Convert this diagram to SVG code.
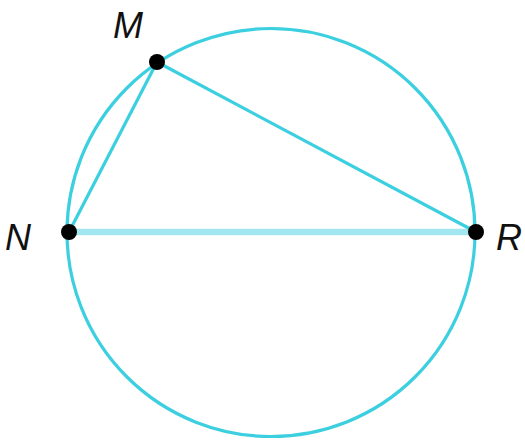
<svg xmlns="http://www.w3.org/2000/svg" width="525" height="440" viewBox="0 0 525 440">
<style>
.c{fill:none;stroke:#3ccfe0;stroke-width:3.2}
.d{fill:#000}
.l{font-family:"Liberation Sans",Arial,sans-serif;font-style:italic;font-size:36px;fill:#111}
</style>
<rect width="525" height="440" fill="#fff"/>
<g id="circle"><circle class="c" cx="271" cy="232.5" r="204"/></g>
<g id="connectors">
<line x1="69" y1="232" x2="476" y2="232" stroke="#a2e6ef" stroke-width="6.5"/>
<line class="c" x1="69" y1="232" x2="157" y2="62"/>
<line class="c" x1="157" y1="62" x2="476" y2="232"/>
</g>
<g id="M"><circle class="d" cx="157" cy="62" r="8"/><text class="l" x="113" y="38">M</text></g>
<g id="N"><circle class="d" cx="69" cy="232" r="8"/><text class="l" x="5" y="250">N</text></g>
<g id="R"><circle class="d" cx="476" cy="232" r="8"/><text class="l" x="496" y="250">R</text></g>
</svg>
